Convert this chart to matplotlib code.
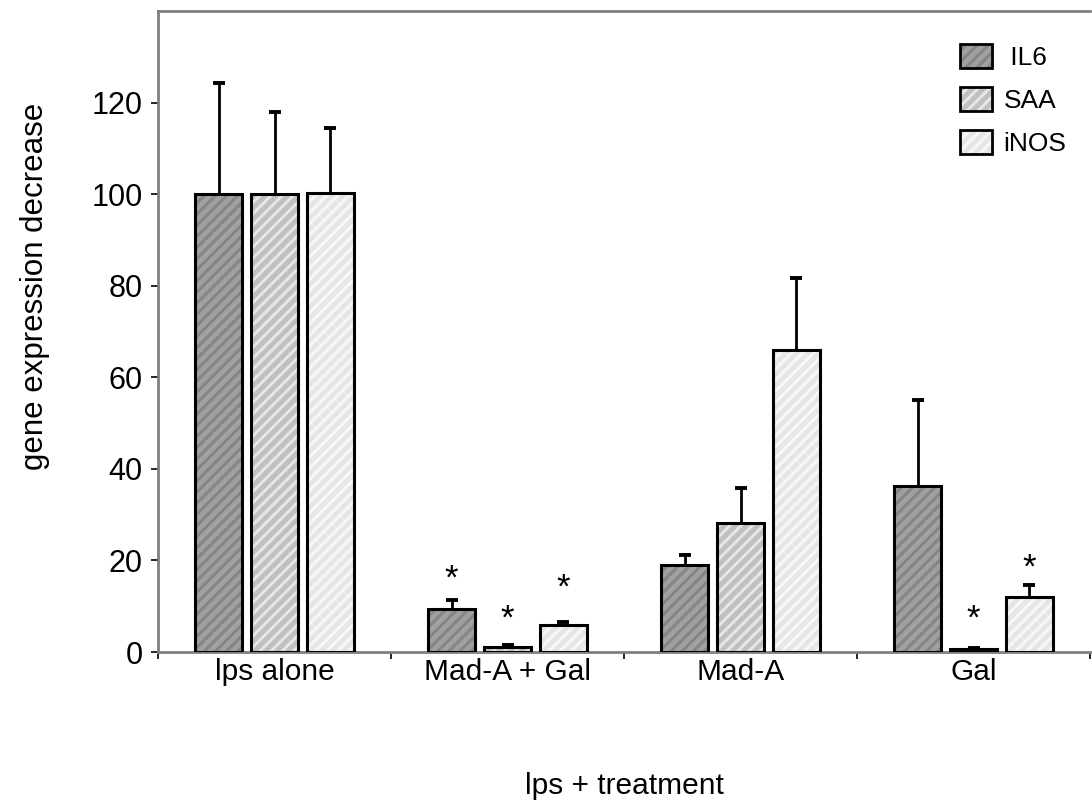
import numpy as np
import matplotlib
matplotlib.use("Agg")
import matplotlib.pyplot as plt
from matplotlib.patches import Patch
from matplotlib.legend_handler import HandlerTuple

plt.rcParams['font.family'] = ['Liberation Sans', 'DejaVu Sans']
plt.rcParams['hatch.linewidth'] = 2.2

# data
groups = ["lps alone", "Mad-A + Gal", "Mad-A", "Gal"]
series = [" IL6", "SAA", "iNOS"]
il6 = [100, 9.3, 19.0, 36.3]
saa = [100, 1.2, 28.2, 0.6]
inos = [100.2, 5.8, 66.0, 12.0]
il6_err = [24.2, 2.1, 2.2, 18.8]
saa_err = [18.0, 0.3, 7.6, 0.2]
inos_err = [14.3, 0.7, 15.7, 2.7]
# significance stars: (group, series index, y of star centre)
stars = [(1, 0, 18.0), (1, 1, 9.4), (1, 2, 16.0), (3, 1, 9.2), (3, 2, 20.5)]

values = [il6, saa, inos]
errors = [il6_err, saa_err, inos_err]
face = ["#a0a0a0", "#c0c0c0", "#e6e6e6"]
stripe = ["#858585", "#e6e6e6", "#f7f7f7"]
offsets = [-0.24, 0.0, 0.24]
width = 0.2

fig = plt.figure(figsize=(10.92, 8.10), dpi=100)
ax = fig.add_axes([158 / 1092, 1 - 652 / 810, 932 / 1092, 641 / 810])

x = np.arange(len(groups))
handles = []
for i in range(3):
    xs = x + offsets[i]
    ax.bar(xs, values[i], width, color=face[i], edgecolor=stripe[i],
           hatch='///', linewidth=0, zorder=2)
    ax.bar(xs, values[i], width, fill=False, edgecolor="black",
           linewidth=2.2, zorder=3)
    eb = ax.errorbar(xs, values[i], yerr=[np.zeros(4), errors[i]], fmt="none",
                     ecolor="black", elinewidth=2.0, capsize=4.3, capthick=2.8,
                     zorder=1)
    # only the upper cap is wanted
    for cap in eb[1]:
        if np.allclose(cap.get_ydata(), values[i]):
            cap.set_visible(False)
    h1 = Patch(facecolor=face[i], edgecolor=stripe[i], hatch='///', linewidth=0)
    h2 = Patch(fill=False, edgecolor="black", linewidth=2.0)
    handles.append((h1, h2))

for g, s, yc in stars:
    ax.text(g + offsets[s], yc - 4.2, "*", ha="center", va="baseline",
            fontsize=25)

ax.set_xlim(-0.5, 3.5)
ax.set_ylim(0, 140)
ax.set_yticks([0, 20, 40, 60, 80, 100, 120])
ax.set_xticks(x)
ax.set_xticklabels(groups)
ax.set_xticks([-0.5, 0.5, 1.5, 2.5, 3.5], minor=True)
ax.tick_params(axis="x", which="major", length=0, pad=4, labelsize=21.5)
ax.tick_params(axis="x", which="minor", length=5, width=1.2, direction="out")
ax.tick_params(axis="y", length=5, width=1.2, direction="out", labelsize=22,
               pad=6)

for side in ["left", "top", "bottom"]:
    ax.spines[side].set_color("#808080")
    ax.spines[side].set_linewidth(2.0)
ax.spines["right"].set_visible(False)

ax.set_ylabel("gene expression decrease", fontsize=22.5)
ax.yaxis.set_label_coords(-0.116, 0.57)
ax.set_xlabel("lps + treatment", fontsize=21.5, labelpad=62)

ax.legend(handles, series, handler_map={tuple: HandlerTuple(ndivide=1, pad=0)},
          loc="upper right", bbox_to_anchor=(1.0, 0.985), frameon=False,
          fontsize=19, handlelength=1.2, handleheight=1.0, labelspacing=0.65,
          handletextpad=0.45)

fig.savefig("out.png", dpi=100)
